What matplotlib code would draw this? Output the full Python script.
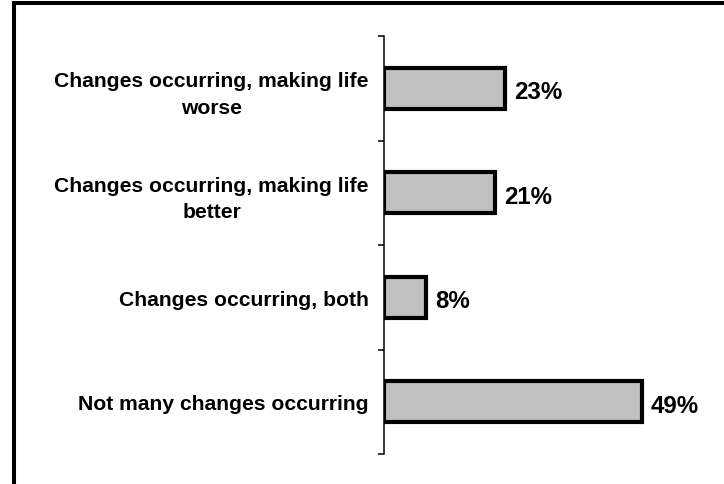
import matplotlib
matplotlib.use("Agg")
import matplotlib.pyplot as plt
from matplotlib.lines import Line2D

categories = ["Changes occurring, making life\nworse",
              "Changes occurring, making life\nbetter",
              "Changes occurring, both",
              "Not many changes occurring"]
values = [23, 21, 8, 49]
value_labels = ["23%", "21%", "8%", "49%"]

plt.rcParams['font.family'] = ['Liberation Sans', 'DejaVu Sans']

W, H = 724, 485
fig = plt.figure(figsize=(W / 100, H / 100), dpi=100)
ax = fig.add_axes([384 / W, 1 - 455 / H, 316 / W, (455 - 37) / H])

pos = list(range(len(categories)))
ax.barh(pos, values, height=0.39, color='#c0c0c0', edgecolor='black',
        linewidth=3.0, zorder=3)

for p, v, lab in zip(pos, values, value_labels):
    ax.annotate(lab, xy=(v, p), xytext=(6.5, -2.5), textcoords='offset points',
                ha='left', va='center', fontsize=17.3, fontweight='bold',
                color='black')

ax.set_xlim(0, 60)
ax.set_ylim(len(categories) - 0.5, -0.5)

ax.set_yticks(pos)
ax.set_yticklabels(categories, fontsize=15.2, fontweight='bold',
                   ha='right', multialignment='center', linespacing=1.5)
ax.set_yticks([i - 0.5 for i in range(len(categories) + 1)], minor=True)
ax.tick_params(axis='y', which='major', length=0, pad=11)
ax.tick_params(axis='y', which='minor', length=4.5, width=1.1, color='black')
ax.set_xticks([])

for s in ['top', 'right', 'bottom']:
    ax.spines[s].set_visible(False)
ax.spines['left'].set_linewidth(1.1)
ax.spines['left'].set_color('black')

# Outer frame (only top and left edges visible)
fig.add_artist(Line2D([13.7 / W, 1.01], [1 - 3.7 / H, 1 - 3.7 / H],
                      transform=fig.transFigure, color='black',
                      linewidth=2.9, solid_capstyle='projecting'))
fig.add_artist(Line2D([13.7 / W, 13.7 / W], [1 - 3.7 / H, -0.01],
                      transform=fig.transFigure, color='black',
                      linewidth=2.9, solid_capstyle='projecting'))

fig.savefig("out.png", dpi=100)
